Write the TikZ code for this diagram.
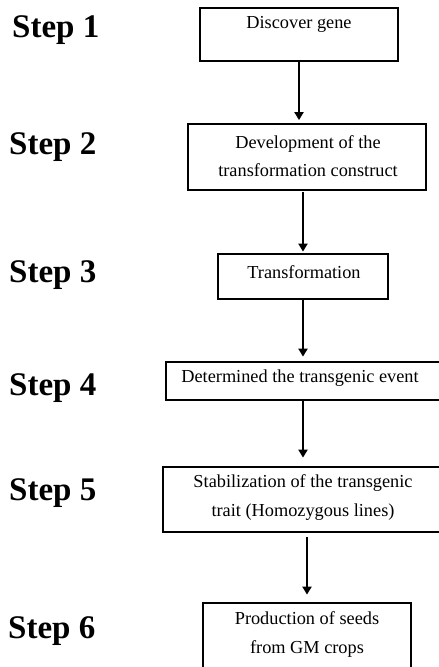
\documentclass[tikz,border=0pt]{standalone}
\usepackage{fontspec}
\setmainfont{Liberation Serif}
\usetikzlibrary{arrows.meta}
\begin{document}
\begin{tikzpicture}[x=1pt,y=-1pt,
  stepbox/.style={draw, line width=2.8pt, inner sep=0pt},
  steplabel/.style={anchor=west, inner sep=0pt, font=\fontsize{33}{36}\selectfont\bfseries},
  boxtext/.style={inner sep=0pt, align=center, font=\fontsize{18.3}{28.5}\selectfont},
  flow/.style={line width=2.2pt, -{Triangle[width=9pt,length=8pt]}}]
\useasboundingbox (0,0) rectangle (439,667);
\clip (0,0) rectangle (439,667);
\fill[white] (0,0) rectangle (439,667);

% step labels
\node[steplabel] (s1) at (12,30) {Step 1};
\node[steplabel] (s2) at (9,147.5) {Step 2};
\node[steplabel] (s3) at (9,275) {Step 3};
\node[steplabel] (s4) at (9,388) {Step 4};
\node[steplabel] (s5) at (9,493) {Step 5};
\node[steplabel] (s6) at (8,631) {Step 6};

% boxes
\node[stepbox, minimum width=198pt, minimum height=53pt] (b1) at (299,34.5) {};
\node[stepbox, minimum width=238pt, minimum height=66pt] (b2) at (307,157) {};
\node[stepbox, minimum width=170pt, minimum height=45pt] (b3) at (303,276.5) {};
\node[stepbox, minimum width=284pt, minimum height=38pt] (b4) at (308,381) {};
\node[stepbox, minimum width=287pt, minimum height=65pt] (b5) at (306.5,499.5) {};
\node[stepbox, minimum width=208pt, minimum height=87pt] (b6) at (307,646.5) {};

% box texts
\node[boxtext] (t1) at (299,24) {Discover gene};
\node[boxtext] (t2) at (308,156) {Development of the\\transformation construct};
\node[boxtext] (t3) at (304,272) {Transformation};
\node[boxtext] (t4) at (300,378) {Determined the transgenic event};
\node[boxtext] (t5) at (303,497.5) {Stabilization of the transgenic\\trait (Homozygous lines)};
\node[boxtext] (t6) at (307,634.5) {Production of seeds\\from GM crops};

% arrows
\draw[flow, shorten >=2.5pt] (b1.south) -- (b1.south |- b2.north);
\draw[flow, shorten <=1pt, shorten >=1pt] (b3.north |- b2.south) -- (b3.north);
\draw[flow, shorten >=4pt] (b3.south) -- (b3.south |- b4.north);
\draw[flow, shorten >=8pt] (b3.south |- b4.south) -- (b3.south |- b5.north);
\draw[flow, shorten <=4pt, shorten >=7pt] (b6.north |- b5.south) -- (b6.north);
\end{tikzpicture}
\end{document}
